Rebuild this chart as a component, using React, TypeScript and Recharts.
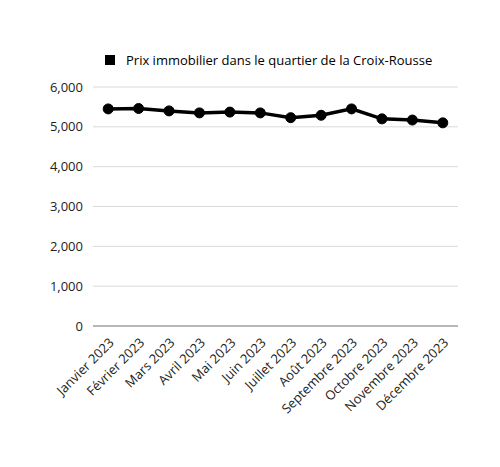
import { LineChart, Line, XAxis, YAxis, CartesianGrid, Legend } from 'recharts'

const MONTHS = [
  'Janvier 2023',
  'Février 2023',
  'Mars 2023',
  'Avril 2023',
  'Mai 2023',
  'Juin 2023',
  'Juillet 2023',
  'Août 2023',
  'Septembre 2023',
  'Octobre 2023',
  'Novembre 2023',
  'Décembre 2023',
]

const PRICES = [5450, 5460, 5400, 5350, 5370, 5350, 5230, 5290, 5450, 5200, 5170, 5100]

const Y_TICKS = [0, 1000, 2000, 3000, 4000, 5000, 6000]

const SERIES_NAME = 'Prix immobilier dans le quartier de la Croix-Rousse'

const FONT = '"Open Sans", sans-serif'

const data = MONTHS.map((month, i) => ({ month, price: PRICES[i] }))

function LegendBox() {
  return (
    <div
      style={{
        display: 'flex',
        alignItems: 'flex-start',
        paddingLeft: 105,
        paddingTop: 2,
        height: 35,
        boxSizing: 'border-box',
        fontFamily: FONT,
        fontSize: 13,
        lineHeight: '16px',
        color: '#000',
      }}
    >
      <span style={{ display: 'inline-block', width: 10, height: 10, marginTop: 3, background: '#000', marginRight: 11 }} />
      <span>{SERIES_NAME}</span>
    </div>
  )
}

export default function App() {
  return (
    <div style={{ width: 500, height: 467, background: '#fff' }}>
      <style>{'body{margin:0}'}</style>
      <LineChart
        width={500}
        height={467}
        data={data}
        margin={{ top: 50, right: 42, bottom: 51, left: 0 }}
      >
        <CartesianGrid vertical={false} stroke="#d9d9d9" />
        <Legend
          verticalAlign="top"
          align="left"
          height={37}
          content={() => <LegendBox />}
          wrapperStyle={{ left: 0, width: 500 }}
        />
        <XAxis
          dataKey="month"
          scale="band"
          interval={0}
          tickLine={false}
          axisLine={{ stroke: '#a6a6a6', strokeWidth: 1.5 }}
          angle={-45}
          textAnchor="end"
          height={90}
          tickMargin={5}
          tick={{ fontFamily: FONT, fontSize: 13, fill: '#222' }}
        />
        <YAxis
          domain={[0, 6000]}
          ticks={Y_TICKS}
          width={93}
          tickLine={false}
          axisLine={false}
          tickMargin={4}
          tickFormatter={(v: number) => v.toLocaleString('en-US')}
          tick={{ fontFamily: FONT, fontSize: 13, fill: '#222' }}
        />
        <Line
          dataKey="price"
          name={SERIES_NAME}
          stroke="#000"
          strokeWidth={3.5}
          dot={{ r: 5, fill: '#000', stroke: '#000', strokeWidth: 1 }}
          isAnimationActive={false}
        />
      </LineChart>
    </div>
  )
}
